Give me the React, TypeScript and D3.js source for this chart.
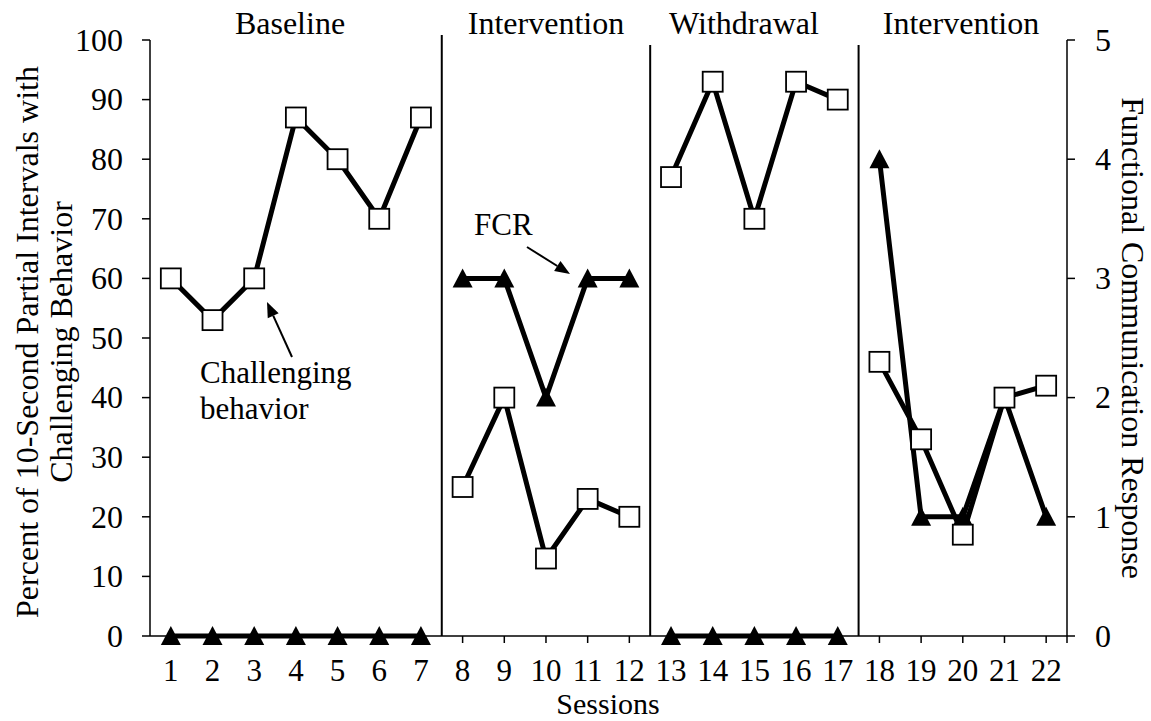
import React from 'react'
import * as d3 from 'd3'

const sessions = [1, 2, 3, 4, 5, 6, 7, 8, 9, 10, 11, 12, 13, 14, 15, 16, 17, 18, 19, 20, 21, 22]
const challenging = [60, 53, 60, 87, 80, 70, 87, 25, 40, 13, 23, 20, 77, 93, 70, 93, 90, 46, 33, 17, 40, 42]
const fcr = [0, 0, 0, 0, 0, 0, 0, 3, 3, 2, 3, 3, 0, 0, 0, 0, 0, 4, 1, 1, 2, 1]
const phaseNames = ['Baseline', 'Intervention', 'Withdrawal', 'Intervention']
const phaseStart = [1, 8, 13, 18]
const phaseEnd = [7, 12, 17, 22]
const leftTicks = [0, 10, 20, 30, 40, 50, 60, 70, 80, 90, 100]
const rightTicks = [0, 1, 2, 3, 4, 5]

const W = 1151
const H = 721
const font = '"Liberation Serif", "Times New Roman", serif'

function arrow(x1: number, y1: number, x2: number, y2: number, key: string) {
  const a = Math.atan2(y2 - y1, x2 - x1)
  const len = 15
  const hw = 6
  const bx = x2 - len * Math.cos(a)
  const by = y2 - len * Math.sin(a)
  const px = -Math.sin(a) * hw
  const py = Math.cos(a) * hw
  return (
    <g key={key}>
      <line x1={x1} y1={y1} x2={bx} y2={by} stroke="#000" strokeWidth={2} />
      <polygon points={`${x2},${y2} ${bx + px},${by + py} ${bx - px},${by - py}`} fill="#000" />
    </g>
  )
}

export default function App() {
  const x = d3.scaleLinear().domain([0.5, 22.5]).range([150, 1067])
  const yL = d3.scaleLinear().domain([0, 100]).range([636, 40])
  const yR = d3.scaleLinear().domain([0, 5]).range([636, 40])

  const cbLine = d3.line<number>().x((i) => x(sessions[i])).y((i) => yL(challenging[i]))
  const fcrLine = d3.line<number>().x((i) => x(sessions[i])).y((i) => yR(fcr[i]))

  // index ranges per phase, so lines break at the phase changes
  const phaseIdx = phaseStart.map((s, p) => d3.range(s - 1, phaseEnd[p]))
  const lineTops = [35, 45, 45]

  return (
    <svg width={W} height={H} style={{ position: 'absolute', left: 0, top: 0, background: '#fff' }} fontFamily={font}>
      {/* phase change lines */}
      {phaseEnd.slice(0, 3).map((e, i) => (
        <line key={'pl' + i} x1={x(e + 0.5)} x2={x(e + 0.5)} y1={lineTops[i]} y2={636} stroke="#000" strokeWidth={2} />
      ))}

      {/* axes */}
      <line x1={150} x2={150} y1={40} y2={636} stroke="#000" strokeWidth={1.5} />
      <line x1={1067} x2={1067} y1={40} y2={636} stroke="#000" strokeWidth={1.5} />
      <line x1={150} x2={1067} y1={636} y2={636} stroke="#000" strokeWidth={1.5} />
      {leftTicks.map((t) => (
        <g key={'lt' + t}>
          <line x1={142} x2={150} y1={yL(t)} y2={yL(t)} stroke="#000" strokeWidth={1.5} />
          <text x={123} y={yL(t)} dy="0.34em" textAnchor="end" fontSize={32}>{t}</text>
        </g>
      ))}
      {rightTicks.map((t) => (
        <g key={'rt' + t}>
          <line x1={1067} x2={1075} y1={yR(t)} y2={yR(t)} stroke="#000" strokeWidth={1.5} />
          <text x={1095} y={yR(t)} dy="0.34em" textAnchor="start" fontSize={32}>{t}</text>
        </g>
      ))}
      {sessions.map((s) => (
        <g key={'xt' + s}>
          <line x1={x(s)} x2={x(s)} y1={636} y2={643} stroke="#000" strokeWidth={1.5} />
          <text x={x(s)} y={681} textAnchor="middle" fontSize={31}>{s}</text>
        </g>
      ))}
      <line x1={1067} x2={1067} y1={636} y2={643} stroke="#000" strokeWidth={1.5} />

      {/* axis titles */}
      <text x={608} y={714} textAnchor="middle" fontSize={30}>Sessions</text>
      <text transform="translate(38,342) rotate(-90)" textAnchor="middle" fontSize={32}>
        Percent of 10-Second Partial Intervals with
      </text>
      <text transform="translate(72,342) rotate(-90)" textAnchor="middle" fontSize={32}>
        Challenging Behavior
      </text>
      <text transform="translate(1122,338) rotate(90)" textAnchor="middle" fontSize={32}>
        Functional Communication Response
      </text>

      {/* phase labels */}
      {phaseNames.map((n, i) => (
        <text key={'pn' + i} x={[290, 546, 744, 961][i]} y={34} textAnchor="middle" fontSize={32}>{n}</text>
      ))}

      {/* FCR series */}
      {phaseIdx.map((idx, p) => (
        <path key={'fl' + p} d={fcrLine(idx) || ''} fill="none" stroke="#000" strokeWidth={5} strokeLinejoin="round" />
      ))}
      {sessions.map((s, i) => {
        const cx = x(s)
        const cy = yR(fcr[i])
        return <polygon key={'tri' + i} points={`${cx},${cy - 10} ${cx + 10},${cy + 9} ${cx - 10},${cy + 9}`} fill="#000" />
      })}

      {/* challenging behavior series */}
      {phaseIdx.map((idx, p) => (
        <path key={'cl' + p} d={cbLine(idx) || ''} fill="none" stroke="#000" strokeWidth={5} strokeLinejoin="round" />
      ))}
      {sessions.map((s, i) => (
        <rect key={'sq' + i} x={x(s) - 10} y={yL(challenging[i]) - 10} width={20} height={20} fill="#fff" stroke="#000" strokeWidth={1.8} />
      ))}

      {/* annotations */}
      <text x={200} y={383} fontSize={31}>Challenging</text>
      <text x={200} y={419} fontSize={31}>behavior</text>
      {arrow(292, 357, 267, 302, 'a1')}
      <text x={474} y={235} fontSize={31}>FCR</text>
      {arrow(527, 247, 570, 274, 'a2')}
    </svg>
  )
}
